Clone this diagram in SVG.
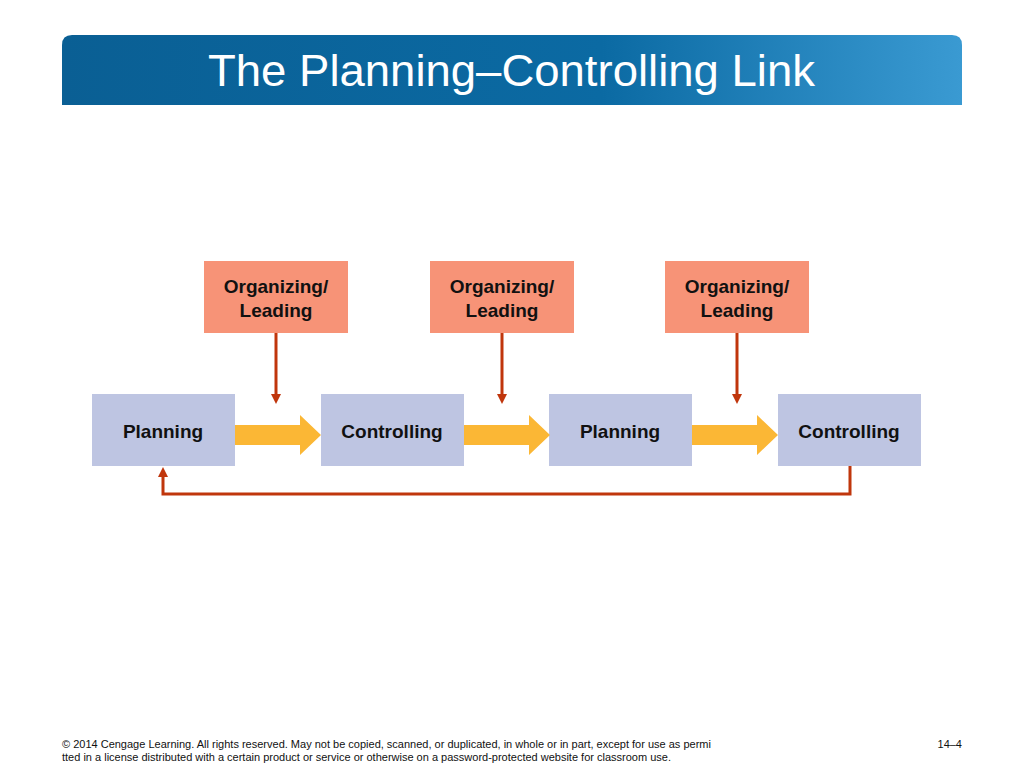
<svg xmlns="http://www.w3.org/2000/svg" width="1024" height="768" viewBox="0 0 1024 768">
<defs>
<linearGradient id="hg" x1="0" x2="1" y1="0" y2="0">
<stop offset="0" stop-color="#0a5f94"/><stop offset="0.6" stop-color="#0b6aa3"/><stop offset="1" stop-color="#3a9ad2"/>
</linearGradient>
<marker id="ar" markerWidth="10" markerHeight="10" refX="5" refY="5" orient="auto" markerUnits="userSpaceOnUse">
<path d="M0,0 L10,5 L0,10 Z" fill="#c0360c"/>
</marker>
<style>
.b{fill:#bec5e2}.o{fill:#f79377}
.t{font-family:"Liberation Sans",Arial,sans-serif;font-weight:bold;font-size:19px;fill:#111;text-anchor:middle}
.r{stroke:#c0360c;stroke-width:3;fill:none}
.y{fill:#fbb735}
.f{font-family:"Liberation Sans",Arial,sans-serif;font-size:11px;fill:#111}
</style>
</defs>
<rect width="1024" height="768" fill="#fff"/>
<path d="M72,35 H952 Q962,35 962,45 V105 H62 V45 Q62,35 72,35 Z" fill="url(#hg)"/>
<text x="208" y="86" font-family="'Liberation Sans',Arial,sans-serif" font-size="44" fill="#fff" textLength="607" lengthAdjust="spacingAndGlyphs">The Planning–Controlling Link</text>
<g id="org1"><rect class="o" x="204" y="261" width="144" height="72"/><text class="t" x="276" y="293">Organizing/</text><text class="t" x="276" y="317">Leading</text></g>
<g id="org2"><rect class="o" x="430" y="261" width="144" height="72"/><text class="t" x="502" y="293">Organizing/</text><text class="t" x="502" y="317">Leading</text></g>
<g id="org3"><rect class="o" x="665" y="261" width="144" height="72"/><text class="t" x="737" y="293">Organizing/</text><text class="t" x="737" y="317">Leading</text></g>
<g id="plan1"><rect class="b" x="92" y="394" width="143" height="72"/><text class="t" x="163" y="438">Planning</text></g>
<g id="ctrl1"><rect class="b" x="321" y="394" width="143" height="72"/><text class="t" x="392" y="438">Controlling</text></g>
<g id="plan2"><rect class="b" x="549" y="394" width="143" height="72"/><text class="t" x="620" y="438">Planning</text></g>
<g id="ctrl2"><rect class="b" x="778" y="394" width="143" height="72"/><text class="t" x="849" y="438">Controlling</text></g>
<g id="connectors">
<path class="y" d="M235,425 H300 V415 L321,435 L300,455 V445 H235 Z"/>
<path class="y" d="M464,425 H529 V415 L550,435 L529,455 V445 H464 Z"/>
<path class="y" d="M692,425 H757 V415 L778,435 L757,455 V445 H692 Z"/>
<path class="r" d="M276,333 V399" marker-end="url(#ar)"/>
<path class="r" d="M502,333 V399" marker-end="url(#ar)"/>
<path class="r" d="M737,333 V399" marker-end="url(#ar)"/>
<path class="r" d="M850,466 V494 H163 V472" marker-end="url(#ar)"/>
</g>
<text class="f" x="62" y="748">© 2014 Cengage Learning. All rights reserved. May not be copied, scanned, or duplicated, in whole or in part, except for use as permi</text>
<text class="f" x="62" y="761">tted in a license distributed with a certain product or service or otherwise on a password-protected website for classroom use.</text>
<text class="f" x="962" y="748" text-anchor="end">14–4</text>
</svg>
